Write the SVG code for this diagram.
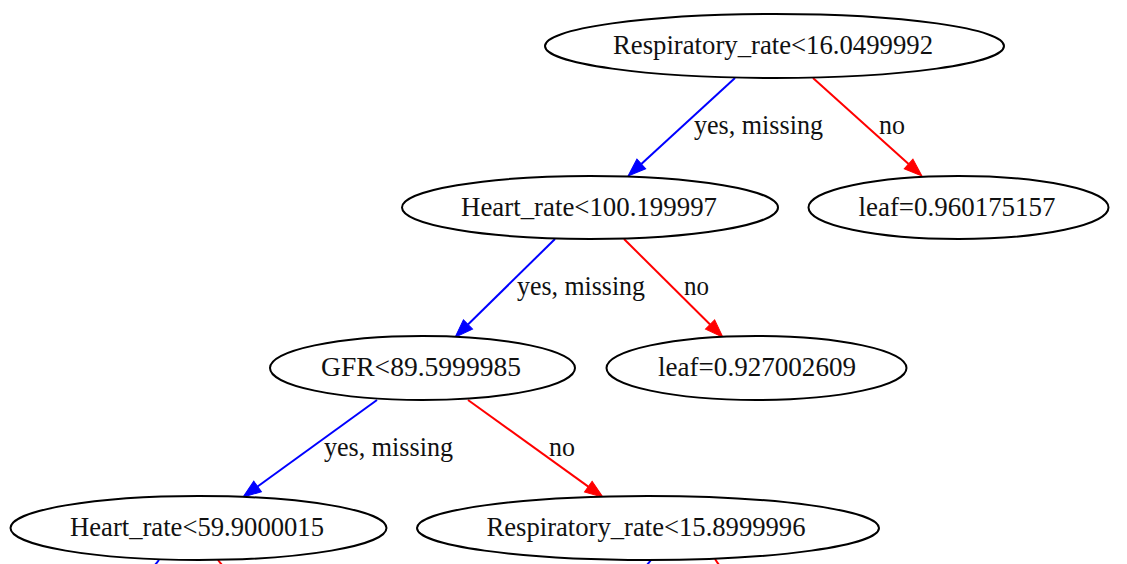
<svg xmlns="http://www.w3.org/2000/svg" width="1127" height="564" viewBox="0 0 1127 564">
<style>
.node ellipse{fill:#fff;stroke:#000;stroke-width:2}
.node text{font-family:"Liberation Serif","Times New Roman",serif;font-size:28px;fill:#111;text-anchor:middle}
.lbl{font-family:"Liberation Serif","Times New Roman",serif;font-size:28px;fill:#111}
.yes{stroke:#0000ff;stroke-width:2;fill:none}
.no{stroke:#ff0000;stroke-width:2;fill:none}
</style>
<defs>
<marker id="ay" markerUnits="userSpaceOnUse" markerWidth="20" markerHeight="16" refX="0" refY="6.5" orient="auto" overflow="visible">
<path d="M0,0 L18,6.5 L0,13 z" fill="#0000ff" stroke="#0000ff" stroke-width="1"/>
</marker>
<marker id="an" markerUnits="userSpaceOnUse" markerWidth="20" markerHeight="16" refX="0" refY="6.5" orient="auto" overflow="visible">
<path d="M0,0 L18,6.5 L0,13 z" fill="#ff0000" stroke="#ff0000" stroke-width="1"/>
</marker>
</defs>
<rect width="1127" height="564" fill="#fff"/>
<g id="edges">
<line class="yes" x1="735" y1="78" x2="641.3" y2="163.9" marker-end="url(#ay)"/>
<text class="lbl" x="694" y="134" textLength="129" lengthAdjust="spacingAndGlyphs">yes, missing</text>
<line class="no" x1="813" y1="78" x2="908.6" y2="164" marker-end="url(#an)"/>
<text class="lbl" x="879" y="134" textLength="26" lengthAdjust="spacingAndGlyphs">no</text>
<line class="yes" x1="555" y1="239" x2="468" y2="324.5" marker-end="url(#ay)"/>
<text class="lbl" x="517" y="295" textLength="128" lengthAdjust="spacingAndGlyphs">yes, missing</text>
<line class="no" x1="624" y1="239" x2="710.1" y2="324.5" marker-end="url(#an)"/>
<text class="lbl" x="684" y="295" textLength="25" lengthAdjust="spacingAndGlyphs">no</text>
<line class="yes" x1="377" y1="400" x2="257.6" y2="486.5" marker-end="url(#ay)"/>
<text class="lbl" x="324" y="456" textLength="129" lengthAdjust="spacingAndGlyphs">yes, missing</text>
<line class="no" x1="468" y1="400" x2="588.3" y2="486.6" marker-end="url(#an)"/>
<text class="lbl" x="549" y="456" textLength="26" lengthAdjust="spacingAndGlyphs">no</text>
<line class="yes" x1="159" y1="560" x2="155" y2="565"/>
<line class="no" x1="218" y1="560" x2="222" y2="565"/>
<line class="yes" x1="651" y1="560" x2="647" y2="565"/>
<line class="no" x1="715" y1="559" x2="719" y2="565"/>
</g>
<g id="n0" class="node">
<ellipse cx="774.5" cy="46" rx="229.5" ry="32"/>
<text x="773" y="54" textLength="320" lengthAdjust="spacingAndGlyphs">Respiratory_rate&lt;16.0499992</text>
</g>
<g id="n1" class="node">
<ellipse cx="590" cy="207.5" rx="188" ry="31.5"/>
<text x="589" y="215.5" textLength="256" lengthAdjust="spacingAndGlyphs">Heart_rate&lt;100.199997</text>
</g>
<g id="n2" class="node">
<ellipse cx="958.5" cy="207.5" rx="150" ry="31.5"/>
<text x="957" y="215.5" textLength="197" lengthAdjust="spacingAndGlyphs">leaf=0.960175157</text>
</g>
<g id="n3" class="node">
<ellipse cx="422.5" cy="368" rx="152.5" ry="32"/>
<text x="421" y="376" textLength="200" lengthAdjust="spacingAndGlyphs">GFR&lt;89.5999985</text>
</g>
<g id="n4" class="node">
<ellipse cx="756.5" cy="368" rx="150" ry="32"/>
<text x="757" y="376" textLength="198" lengthAdjust="spacingAndGlyphs">leaf=0.927002609</text>
</g>
<g id="n5" class="node">
<ellipse cx="198.5" cy="528" rx="188" ry="32"/>
<text x="197" y="536" textLength="254" lengthAdjust="spacingAndGlyphs">Heart_rate&lt;59.9000015</text>
</g>
<g id="n6" class="node">
<ellipse cx="648" cy="528" rx="231" ry="32"/>
<text x="646" y="536" textLength="319" lengthAdjust="spacingAndGlyphs">Respiratory_rate&lt;15.8999996</text>
</g>
</svg>
